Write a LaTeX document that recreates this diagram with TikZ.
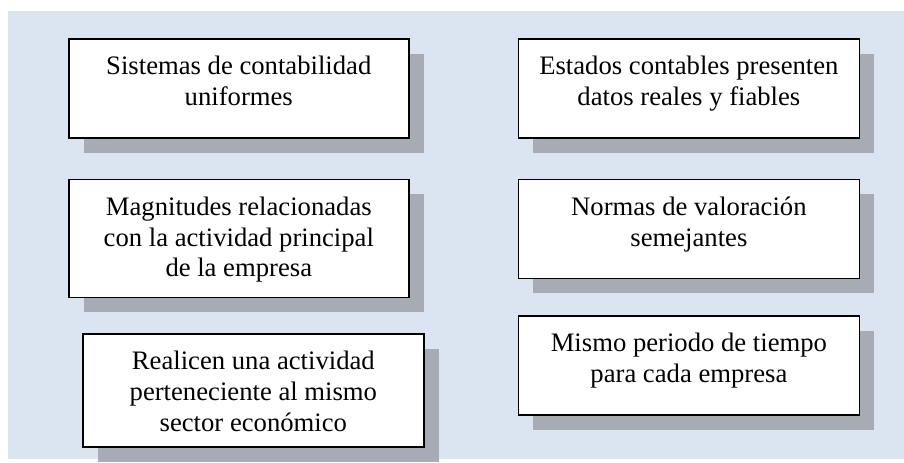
\documentclass[tikz,border=0pt]{standalone}
\usepackage{fontspec}
\setmainfont{Liberation Serif}
\usetikzlibrary{positioning,shadows}
\definecolor{panelbg}{HTML}{DBE5F1}
\definecolor{shadowgray}{HTML}{A7ACB4}
\tikzset{
    box/.style={draw, line width=1.2pt, fill=white, minimum width=255pt, inner sep=0pt,
        drop shadow={shadow xshift=11.25pt, shadow yshift=-11.25pt, fill=shadowgray, opacity=1}},
    boxtext/.style={anchor=north, inner sep=0pt, align=center, font=\fontsize{20}{23}\selectfont}
}
\begin{document}
\begin{tikzpicture}[x=0.75pt, y=-0.75pt]
    \useasboundingbox (0,0) rectangle (904,462);
    \fill[panelbg] (8,11) rectangle (904,459);

    % Left column
    \node[box, minimum height=74.25pt, anchor=north west] (sist) at (68,38) {};
    \node[box, minimum height=88.5pt, below=30pt of sist] (magn) {};
    \node[box, minimum width=255.75pt, minimum height=84.75pt, below=26.25pt of magn, xshift=10.9pt] (real) {};
    \node[boxtext, below=13.5pt of sist.north] (sist-t) {Sistemas de contabilidad\\uniformes};
    \node[boxtext, below=13.5pt of magn.north] (magn-t) {Magnitudes relacionadas\\con la actividad principal\\de la empresa};
    \node[boxtext, below=13.5pt of real.north] (real-t) {Realicen una actividad\\perteneciente al mismo\\sector económico};

    % Right column
    \node[box, minimum width=255.75pt, minimum height=74.25pt, right=81pt of sist] (esta) {};
    \node[box, minimum width=255.75pt, minimum height=74.25pt, below=30pt of esta] (norm) {};
    \node[box, minimum width=255.75pt, minimum height=74.25pt, below=27pt of norm] (mism) {};
    \node[boxtext, below=13.5pt of esta.north] (esta-t) {Estados contables presenten\\datos reales y fiables};
    \node[boxtext, below=13.5pt of norm.north] (norm-t) {Normas de valoración\\semejantes};
    \node[boxtext, below=13.5pt of mism.north] (mism-t) {Mismo periodo de tiempo\\para cada empresa};
\end{tikzpicture}
\end{document}
